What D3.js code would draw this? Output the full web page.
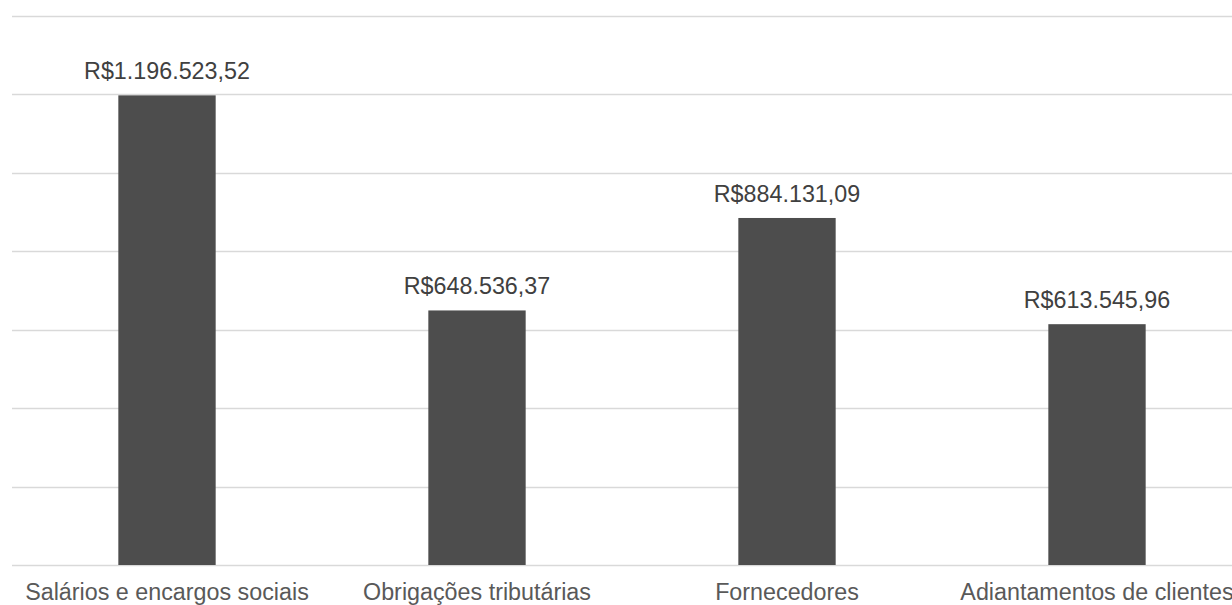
<!DOCTYPE html>
<html>
<head>
<meta charset="utf-8">
<script src="https://cdn.jsdelivr.net/npm/d3@7"></script>
<style>
html,body{margin:0;padding:0;background:#fff;overflow:hidden;}
svg{display:block;}
</style>
</head>
<body>
<svg id="chart" width="1232" height="605"></svg>
<script>
const categories = ["Salários e encargos sociais", "Obrigações tributárias", "Fornecedores", "Adiantamentos de clientes"];
const values = [1196523.52, 648536.37, 884131.09, 613545.96];
const valueLabels = ["R$1.196.523,52", "R$648.536,37", "R$884.131,09", "R$613.545,96"];
const gridTicks = [0, 200000, 400000, 600000, 800000, 1000000, 1200000, 1400000];

const svg = d3.select("#chart");
const plotLeft = 12, plotRight = 1252, plotTop = 15.5, plotBottom = 565;

const x = d3.scaleBand().domain(categories).range([plotLeft, plotRight]).paddingInner(0.686).paddingOuter(0.343);
const y = d3.scaleLinear().domain([0, 1400000]).range([plotBottom, plotTop]);

svg.append("g").selectAll("line").data(gridTicks).join("line")
  .attr("x1", plotLeft).attr("x2", plotRight)
  .attr("y1", d => Math.round(y(d)) + 0.5).attr("y2", d => Math.round(y(d)) + 0.5)
  .attr("stroke", "#d9d9d9").attr("stroke-width", 1.5);

svg.append("g").selectAll("rect").data(values).join("rect")
  .attr("x", (d, i) => x(categories[i]))
  .attr("width", x.bandwidth())
  .attr("y", d => y(d))
  .attr("height", d => y(0) - y(d))
  .attr("fill", "#4d4d4d");

svg.append("g").selectAll("text").data(values).join("text")
  .attr("x", (d, i) => x(categories[i]) + x.bandwidth() / 2)
  .attr("y", d => y(d) - 16)
  .attr("text-anchor", "middle")
  .attr("font-family", "'Liberation Sans', Arial, sans-serif")
  .attr("font-size", "23.3px")
  .attr("fill", "#404040")
  .text((d, i) => valueLabels[i]);

svg.append("g").selectAll("text").data(categories).join("text")
  .attr("x", d => x(d) + x.bandwidth() / 2)
  .attr("y", 600)
  .attr("text-anchor", "middle")
  .attr("font-family", "'Liberation Sans', Arial, sans-serif")
  .attr("font-size", "23.3px")
  .attr("fill", "#595959")
  .text(d => d);
</script>
</body>
</html>
